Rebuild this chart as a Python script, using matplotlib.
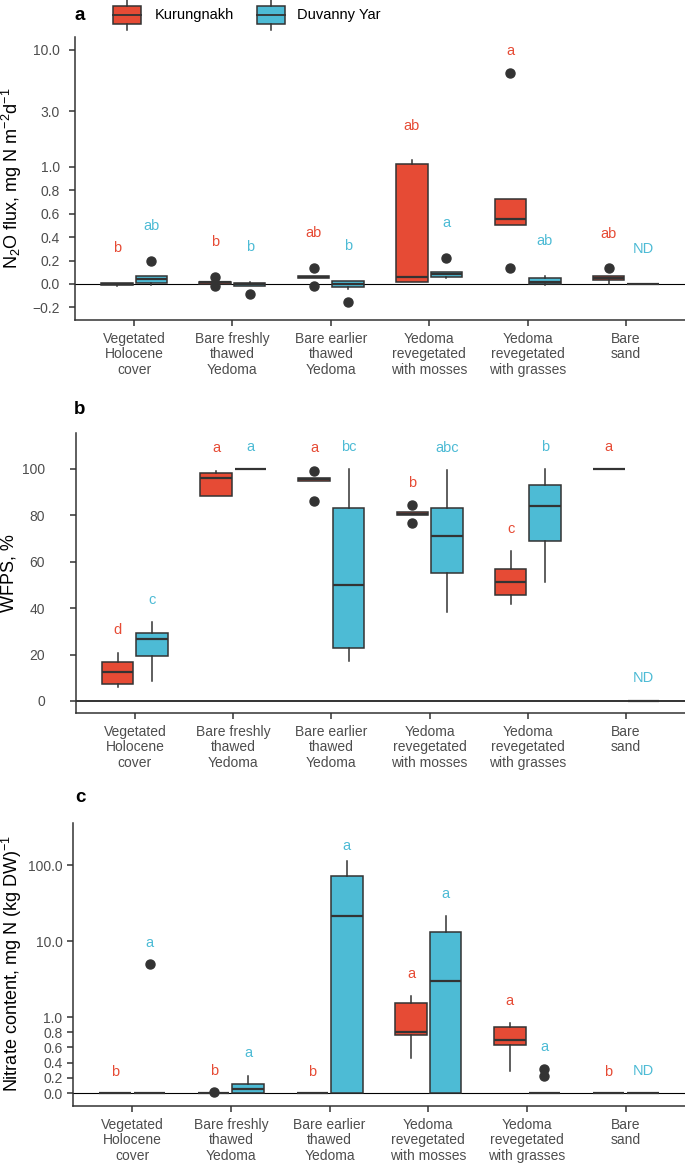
import numpy as np
import matplotlib
matplotlib.use('Agg')
import matplotlib.pyplot as plt
from matplotlib.patches import Rectangle

plt.rcParams['font.family'] = ['Liberation Sans', 'DejaVu Sans']
plt.rcParams['mathtext.fontset'] = 'custom'
plt.rcParams['mathtext.rm'] = 'Liberation Sans'
plt.rcParams['mathtext.it'] = 'Liberation Sans:italic'
plt.rcParams['mathtext.bf'] = 'Liberation Sans:bold'
plt.rcParams['mathtext.default'] = 'regular'

RED = '#E64B35'
BLUE = '#4DBBD5'
DARK = '#333333'
GREY = '#4D4D4D'

sites = ['Kurungnakh', 'Duvanny Yar']
categories = ['Vegetated\nHolocene\ncover', 'Bare freshly\nthawed\nYedoma',
              'Bare earlier\nthawed\nYedoma', 'Yedoma\nrevegetated\nwith mosses',
              'Yedoma\nrevegetated\nwith grasses', 'Bare\nsand']

# box summaries per category: [whisker low, q1, median, q3, whisker high]
# panel a - N2O flux
n2o_kur = [[-0.02, -0.01, -0.003, 0.005, 0.01],
           [0.0, 0.0, 0.015, 0.02, 0.02],
           [0.05, 0.05, 0.058, 0.065, 0.065],
           [0.017, 0.017, 0.062, 1.07, 1.15],
           [0.5, 0.5, 0.553, 0.73, 0.73],
           [0.0, 0.034, 0.05, 0.068, 0.068]]
n2o_kur_out = [[], [0.06, -0.015], [0.134, -0.02], [], [6.4, 0.134], [0.134]]
n2o_duv = [[-0.005, 0.01, 0.04, 0.07, 0.07],
           [-0.015, -0.015, 0.0, 0.01, 0.02],
           [-0.04, -0.023, 0.0, 0.028, 0.028],
           [0.05, 0.062, 0.085, 0.1, 0.1],
           [-0.005, 0.0, 0.017, 0.05, 0.068],
           [0.0, 0.0, 0.0, 0.0, 0.0]]
n2o_duv_out = [[0.2], [-0.085], [-0.15], [0.225], [], []]
n2o_kur_let = ['b', 'b', 'ab', 'ab', 'a', 'ab']
n2o_duv_let = ['ab', 'b', 'b', 'a', 'ab', 'ND']
n2o_kur_let_y = [0.31, 0.36, 0.436, 2.25, 9.86, 0.427]
n2o_duv_let_y = [0.496, 0.32, 0.325, 0.52, 0.368, 0.297]

# panel b - WFPS
wfps_kur = [[6.2, 7.3, 12.5, 16.9, 20.8],
            [88.5, 88.5, 96.0, 98.4, 99.3],
            [95.0, 95.0, 95.7, 96.2, 96.2],
            [80.0, 80.0, 80.7, 81.3, 81.3],
            [41.8, 45.5, 51.3, 56.9, 64.7],
            [100, 100, 100, 100, 100]]
wfps_kur_out = [[], [], [99.3, 86.2], [84.3, 76.9], [], []]
wfps_duv = [[8.6, 19.3, 26.6, 29.2, 33.9],
            [100, 100, 100, 100, 100],
            [17.4, 23.0, 49.9, 83.3, 99.9],
            [38.5, 55.0, 71.3, 83.3, 99.6],
            [51.3, 68.8, 83.9, 93.2, 99.9],
            [0, 0, 0, 0, 0]]
wfps_duv_out = [[], [], [], [], [], []]
wfps_kur_let = ['d', 'a', 'a', 'b', 'c', 'a']
wfps_duv_let = ['c', 'a', 'bc', 'abc', 'b', 'ND']
wfps_kur_let_y = [30.6, 108.9, 108.9, 93.8, 74.1, 109.6]
wfps_duv_let_y = [43.5, 109.6, 109.6, 108.9, 109.6, 10.1]

# panel c - nitrate
no3_kur = [[0, 0, 0, 0, 0],
           [0, 0, 0, 0, 0],
           [0, 0, 0, 0, 0],
           [0.465, 0.763, 0.807, 1.54, 1.89],
           [0.293, 0.632, 0.70, 0.873, 0.917],
           [0, 0, 0, 0, 0]]
no3_kur_out = [[], [0.01], [], [], [], []]
no3_duv = [[0, 0, 0, 0, 0],
           [0.0, 0.0, 0.057, 0.114, 0.23],
           [0.0, 0.0, 21.5, 71.6, 114],
           [0.0, 0.0, 2.95, 13.1, 21.5],
           [0, 0, 0, 0, 0],
           [0, 0, 0, 0, 0]]
no3_duv_out = [[4.93], [], [], [], [0.31, 0.23], []]
no3_kur_let = ['b', 'b', 'b', 'a', 'a', 'b']
no3_duv_let = ['a', 'a', 'a', 'a', 'a', 'ND']
no3_kur_let_y = [0.28, 0.29, 0.28, 3.68, 1.62, 0.28]
no3_duv_let_y = [9.5, 0.52, 178, 41.5, 0.6, 0.29]


# linear up to 1, log10 above
def fwd(x):
    x = np.asarray(x, dtype=float)
    return np.where(x <= 1, x, 1 + np.log10(np.maximum(x, 1e-9)))


def inv(t):
    t = np.asarray(t, dtype=float)
    return np.where(t <= 1, t, 10 ** (np.minimum(t, 10) - 1))


def stats(summ, outs):
    res = []
    for s, o in zip(summ, outs):
        res.append(dict(whislo=s[0], q1=s[1], med=s[2], q3=s[3], whishi=s[4], fliers=o))
    return res


def panel(ax, kur, kur_out, duv, duv_out, kl, kly, dl, dly, ypad):
    pos = np.arange(1, 7)
    for summ, outs, off, col in [(kur, kur_out, -0.175, RED), (duv, duv_out, 0.175, BLUE)]:
        ax.bxp(stats(summ, outs), positions=pos + off, widths=0.32, patch_artist=True,
               showcaps=False, manage_ticks=False,
               boxprops=dict(facecolor=col, edgecolor=DARK, linewidth=1.1),
               medianprops=dict(color=DARK, linewidth=1.6),
               whiskerprops=dict(color=DARK, linewidth=1.1),
               flierprops=dict(marker='o', markerfacecolor=DARK, markeredgecolor=DARK,
                               markersize=6.5), zorder=3)
    for i in range(6):
        ax.text(pos[i] - 0.175, kly[i], kl[i], color=RED, ha='center', va='center', fontsize=10.5)
        ax.text(pos[i] + 0.175, dly[i], dl[i], color=BLUE, ha='center', va='center', fontsize=10.5)
    ax.set_xlim(0.4, 6.6)
    ax.set_xticks(pos)
    ax.set_xticklabels(categories, linespacing=1.15)
    for sp in ['top', 'right']:
        ax.spines[sp].set_visible(False)
    for sp in ['left', 'bottom']:
        ax.spines[sp].set_color(DARK)
        ax.spines[sp].set_linewidth(1.1)
    ax.tick_params(length=4.5, width=1.1, color=DARK, labelcolor=GREY, labelsize=10)
    ax.tick_params(axis='x', pad=4)
    ax.tick_params(axis='y', pad=ypad)


fig = plt.figure(figsize=(6.85, 11.64), dpi=100)
W, H = 685, 1164


def box(left, top, bottom):
    return [left / W, 1 - bottom / H, (W - left) / W, (bottom - top) / H]


ax1 = fig.add_axes(box(75, 37, 320))
ax1.set_yscale('function', functions=(fwd, inv))
ax1.axhline(0, color='black', linewidth=0.8, zorder=1)
panel(ax1, n2o_kur, n2o_kur_out, n2o_duv, n2o_duv_out,
      n2o_kur_let, n2o_kur_let_y, n2o_duv_let, n2o_duv_let_y, 6.5)
ticks_a = [-0.2, 0.0, 0.2, 0.4, 0.6, 0.8, 1.0, 3.0, 10.0]
ax1.set_yticks(ticks_a)
ax1.set_yticklabels([('%.1f' % v).replace('-', '\u2212') for v in ticks_a])
ax1.set_ylim(-0.308, 12.9)

ax2 = fig.add_axes(box(76, 433, 713))
ax2.axhline(0, color=DARK, linewidth=1.4, zorder=1)
panel(ax2, wfps_kur, wfps_kur_out, wfps_duv, wfps_duv_out,
      wfps_kur_let, wfps_kur_let_y, wfps_duv_let, wfps_duv_let_y, 18)
ax2.set_yticks([0, 20, 40, 60, 80, 100])
ax2.set_ylim(-5.2, 115.5)

ax3 = fig.add_axes(box(73, 823, 1106))
ax3.set_yscale('function', functions=(fwd, inv))
ax3.axhline(0, color='black', linewidth=0.8, zorder=1)
panel(ax3, no3_kur, no3_kur_out, no3_duv, no3_duv_out,
      no3_kur_let, no3_kur_let_y, no3_duv_let, no3_duv_let_y, 3)
ticks_c = [0.0, 0.2, 0.4, 0.6, 0.8, 1.0, 10.0, 100.0]
ax3.set_yticks(ticks_c)
ax3.set_yticklabels(['%.1f' % v for v in ticks_c])
ax3.set_ylim(-0.171, 357)

# overlay for legend, panel letters and axis titles (pixel coordinates)
ov = fig.add_axes([0, 0, 1, 1], zorder=-1)
ov.set_xlim(0, W)
ov.set_ylim(H, 0)
ov.axis('off')

for x0, col, name, tx in [(113.5, RED, sites[0], 155), (257, BLUE, sites[1], 297)]:
    ov.add_patch(Rectangle((x0, 6), 28, 18, facecolor=col, edgecolor=DARK, linewidth=1.1))
    ov.plot([x0, x0 + 28], [15, 15], color=DARK, linewidth=1.3)
    ov.plot([x0 + 14, x0 + 14], [0, 6], color=DARK, linewidth=1.1)
    ov.plot([x0 + 14, x0 + 14], [24, 30], color=DARK, linewidth=1.1)
    ov.text(tx, 15, name, ha='left', va='center', fontsize=10.5, color='black')

for lab, y in [('a', 15), ('b', 410), ('c', 797)]:
    ov.text(80, y, lab, ha='center', va='center', fontsize=13.5, fontweight='bold')

ylab_kw = dict(rotation=90, rotation_mode='anchor', ha='center', va='baseline', fontsize=13)
ov.text(18, 178, 'N$_2$O flux, mg N m$^{-2}$d$^{-1}$', **ylab_kw)
ov.text(13.5, 573, 'WFPS, %', **ylab_kw)
ov.text(18, 964, 'Nitrate content, mg N (kg DW)$^{-1}$', **ylab_kw)

fig.savefig('out.png', dpi=100)
